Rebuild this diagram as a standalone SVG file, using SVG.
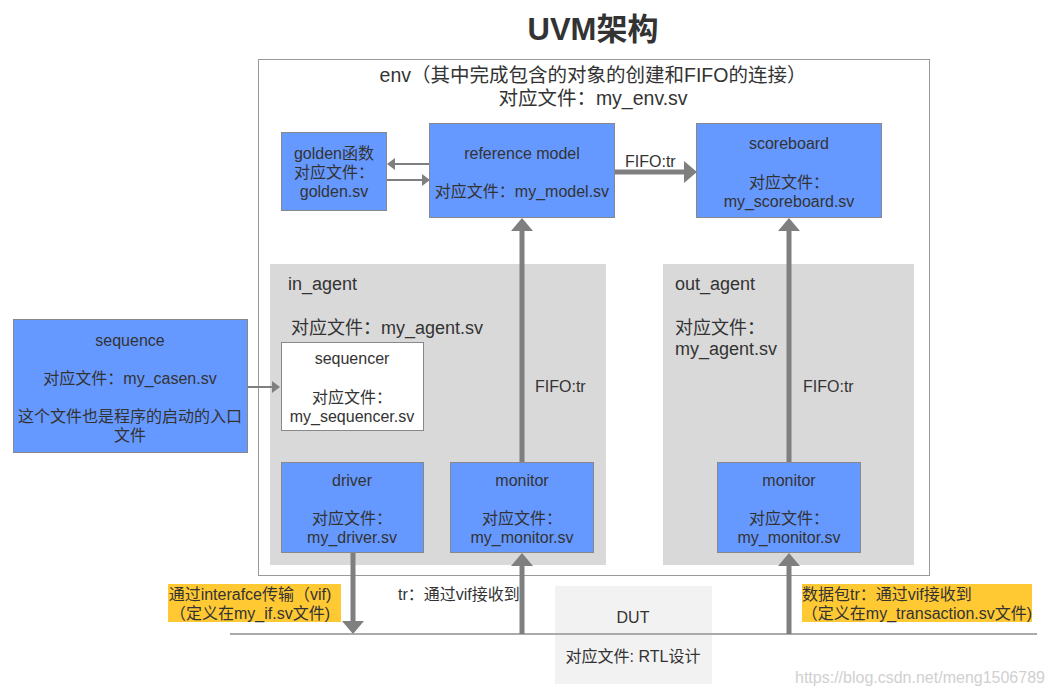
<svg xmlns="http://www.w3.org/2000/svg" width="1052" height="696" viewBox="0 0 1052 696">
<style>
text{font-family:"Liberation Sans","Noto Sans CJK SC",sans-serif;fill:#333;font-size:16px}
.c{text-anchor:middle}
.blue{fill:#6699ff;stroke:#888;stroke-width:1}
.agent{fill:#d9d9d9}
.thick{stroke:#7f7f7f;stroke-width:5;fill:none}
.thin{stroke:#7f7f7f;stroke-width:2;fill:none}
.big{font-size:18px}
.env{font-size:19.5px}
.note{fill:#ffc933}
</style>
<defs>
<marker id="hk" markerUnits="userSpaceOnUse" viewBox="0 -11 13 22" refX="0" refY="0" markerWidth="13" markerHeight="22" orient="auto"><path d="M0,-11 L13,0 L0,11 z" fill="#7f7f7f"/></marker>
<marker id="hn" markerUnits="userSpaceOnUse" viewBox="0 -6 8 12" refX="0" refY="0" markerWidth="8" markerHeight="12" orient="auto"><path d="M0,-6 L8,0 L0,6 z" fill="#7f7f7f"/></marker>
</defs>
<rect width="1052" height="696" fill="#fff"/>
<text x="593" y="40" class="c" style="font-size:31px;font-weight:bold">UVM架构</text>

<g id="env">
<rect x="258.5" y="59.5" width="671" height="516" fill="#fff" stroke="#999" stroke-width="1"/>
<text x="593" y="82" class="c env">env（其中完成包含的对象的创建和FIFO的连接）</text>
<text x="593" y="105" class="c env">对应文件：my_env.sv</text>
</g>

<g id="in_agent">
<rect x="270" y="264" width="336" height="301" class="agent"/>
<text x="288" y="290" class="big">in_agent</text>
<text x="291" y="334" class="big">对应文件：my_agent.sv</text>
</g>

<g id="out_agent">
<rect x="663" y="264" width="251" height="301" class="agent"/>
<text x="675" y="290" class="big">out_agent</text>
<text x="675" y="334" class="big">对应文件：</text>
<text x="675" y="355" class="big">my_agent.sv</text>
</g>

<g id="golden">
<rect x="281.5" y="132.5" width="105" height="78" class="blue"/>
<text x="334" y="159" class="c">golden函数</text>
<text x="334" y="178" class="c">对应文件：</text>
<text x="334" y="197" class="c">golden.sv</text>
</g>

<g id="reference_model">
<rect x="429.5" y="123.5" width="185" height="94" class="blue"/>
<text x="522" y="159" class="c">reference model</text>
<text x="522" y="197" class="c">对应文件：my_model.sv</text>
</g>

<g id="scoreboard">
<rect x="696.5" y="123.5" width="185" height="94" class="blue"/>
<text x="789" y="149" class="c">scoreboard</text>
<text x="789" y="188" class="c">对应文件：</text>
<text x="789" y="207" class="c">my_scoreboard.sv</text>
</g>

<g id="sequence">
<rect x="13.5" y="319.5" width="234" height="133" class="blue"/>
<text x="130" y="346" class="c">sequence</text>
<text x="130" y="384" class="c">对应文件：my_casen.sv</text>
<text x="130" y="422" class="c">这个文件也是程序的启动的入口</text>
<text x="130" y="441" class="c">文件</text>
</g>

<g id="sequencer">
<rect x="281.5" y="342.5" width="142" height="88" fill="#fff" stroke="#888" stroke-width="1"/>
<text x="352" y="364" class="c">sequencer</text>
<text x="352" y="403" class="c">对应文件：</text>
<text x="352" y="422" class="c">my_sequencer.sv</text>
</g>

<g id="driver">
<rect x="281.5" y="462.5" width="142" height="90" class="blue"/>
<text x="352" y="486" class="c">driver</text>
<text x="352" y="524" class="c">对应文件：</text>
<text x="352" y="543" class="c">my_driver.sv</text>
</g>

<g id="in_monitor">
<rect x="450.5" y="462.5" width="143" height="90" class="blue"/>
<text x="522" y="486" class="c">monitor</text>
<text x="522" y="524" class="c">对应文件：</text>
<text x="522" y="543" class="c">my_monitor.sv</text>
</g>

<g id="out_monitor">
<rect x="717.5" y="462.5" width="143" height="90" class="blue"/>
<text x="789" y="486" class="c">monitor</text>
<text x="789" y="524" class="c">对应文件：</text>
<text x="789" y="543" class="c">my_monitor.sv</text>
</g>

<g id="DUT">
<rect x="555" y="586" width="157" height="98" fill="#f2f2f2"/>
<text x="633" y="623" class="c">DUT</text>
<text x="633" y="662" class="c">对应文件: RTL设计</text>
</g>

<g id="notes">
<rect x="168" y="584" width="173" height="38" class="note"/>
<text x="250" y="600" class="c">通过interafce传输（vif)</text>
<text x="250" y="619" class="c">（定义在my_if.sv文件)</text>
<rect x="802" y="584" width="230" height="38" class="note"/>
<text x="802" y="600">数据包tr：通过vif接收到</text>
<text x="917" y="619" class="c">（定义在my_transaction.sv文件)</text>
<text x="398" y="600">tr：通过vif接收到</text>
</g>

<g id="connectors">
<line x1="230" y1="634" x2="1037" y2="634" stroke="#aaa" stroke-width="2"/>
<line x1="429" y1="164" x2="395" y2="164" class="thin" marker-end="url(#hn)"/>
<line x1="387" y1="180" x2="422" y2="180" class="thin" marker-end="url(#hn)"/>
<line x1="248" y1="387" x2="272" y2="387" class="thin" marker-end="url(#hn)"/>
<line x1="615" y1="172" x2="684" y2="172" class="thick" marker-end="url(#hk)"/>
<text x="625" y="167">FIFO:tr</text>
<line x1="522" y1="462" x2="522" y2="231" class="thick" marker-end="url(#hk)"/>
<text x="535" y="392">FIFO:tr</text>
<line x1="789" y1="462" x2="789" y2="231" class="thick" marker-end="url(#hk)"/>
<text x="803" y="392">FIFO:tr</text>
<line x1="353" y1="553" x2="353" y2="621" class="thick" marker-end="url(#hk)"/>
<line x1="522" y1="634" x2="522" y2="566" class="thick" marker-end="url(#hk)"/>
<line x1="789" y1="634" x2="789" y2="566" class="thick" marker-end="url(#hk)"/>
</g>

<text x="795" y="683" style="fill:#d0d0d0">https://blog.csdn.net/meng1506789</text>
</svg>
